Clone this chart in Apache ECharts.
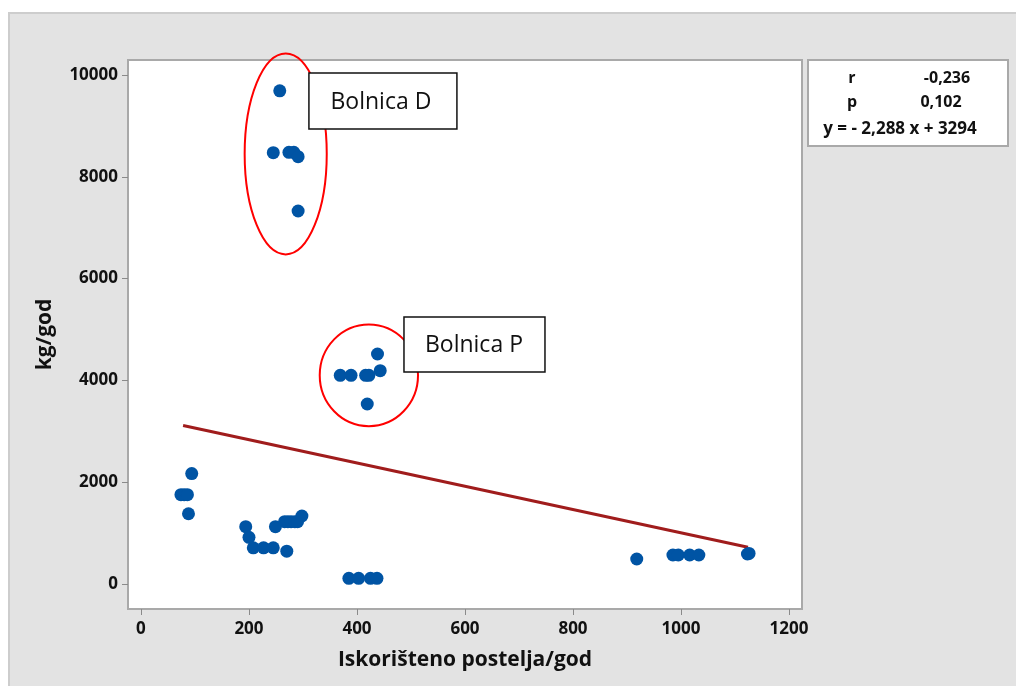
<!DOCTYPE html>
<html>
<head>
<meta charset="utf-8">
<script src="https://cdn.jsdelivr.net/npm/echarts@6/dist/echarts.min.js"></script>
<style>
html,body{margin:0;padding:0;background:#fff;}
#bg{position:absolute;left:8px;top:12px;width:1008px;height:674px;background:#e3e3e3;border-top:2px solid #cdcdcd;border-left:2px solid #cdcdcd;box-sizing:border-box;}
#chart{position:absolute;left:0;top:0;width:1016px;height:686px;}
</style>
</head>
<body>
<div id="bg"></div>
<div id="chart"></div>
<script>
// Data
const xTicks = [0, 200, 400, 600, 800, 1000, 1200];
const yTicks = [0, 2000, 4000, 6000, 8000, 10000];
const bedsX = [257, 245, 274, 283, 291, 291,
               438, 443, 369, 389, 416, 422, 419,
               94, 74, 80, 86, 88,
               194, 200, 208, 227, 245, 270, 266, 272, 278, 249, 285, 290, 298,
               385, 403, 425, 437,
               918, 985, 995, 1016, 1033, 1123, 1126];
const kgY   = [9690, 8474, 8482, 8482, 8395, 7328,
               4519, 4191, 4100, 4100, 4100, 4100, 3536,
               2170, 1755, 1755, 1755, 1380,
               1126, 918, 710, 710, 710, 645, 1225, 1225, 1225, 1126, 1225, 1225, 1336,
               112, 112, 112, 112,
               491, 570, 570, 570, 570, 590, 600];
const fitX = [78, 1124];
const fitY = [3115, 722];
const statsLabels = ['r', 'p'];
const statsValues = ['-0,236', '0,102'];
const equation = 'y = - 2,288 x + 3294';
const groupLabels = ['Bolnica D', 'Bolnica P'];

const FONT = '"Open Sans", "Noto Sans", sans-serif';
const chart = echarts.init(document.getElementById('chart'), null, {renderer: 'canvas'});

const points = bedsX.map((x, i) => [x, kgY[i]]);
const fitLine = fitX.map((x, i) => [x, fitY[i]]);

const option = {
  backgroundColor: 'transparent',
  animation: false,
  grid: {
    left: 128, top: 60, width: 674, height: 549,
    show: true, backgroundColor: '#ffffff', borderColor: '#a9a9a9', borderWidth: 2
  },
  xAxis: {
    type: 'value', min: -24, max: 1224,
    name: 'Iskorišteno postelja/god', nameLocation: 'middle', nameGap: 41,
    nameTextStyle: {fontFamily: FONT, fontSize: 21, fontWeight: 'bold', color: '#111'},
    axisLine: {show: false, onZero: false},
    splitLine: {show: false},
    axisTick: {show: true, customValues: xTicks, length: 6, lineStyle: {color: '#8a8a8a', width: 1}},
    axisLabel: {customValues: xTicks, margin: 12, fontFamily: FONT, fontSize: 17, fontWeight: 'bold', color: '#111',
                formatter: v => String(v)}
  },
  yAxis: {
    type: 'value', min: -491, max: 10295,
    name: 'kg/god', nameLocation: 'middle', nameGap: 72,
    nameTextStyle: {fontFamily: FONT, fontSize: 21, fontWeight: 'bold', color: '#111'},
    axisLine: {show: false, onZero: false},
    splitLine: {show: false},
    axisTick: {show: true, customValues: yTicks, length: 6, lineStyle: {color: '#8a8a8a', width: 1}},
    axisLabel: {customValues: yTicks, margin: 10, fontFamily: FONT, fontSize: 17, fontWeight: 'bold', color: '#111',
                formatter: v => String(v)}
  },
  series: [
    {
      type: 'line', data: fitLine, symbol: 'none', z: 3,
      lineStyle: {color: '#a01c1c', width: 3}
    },
    {
      type: 'scatter', data: points, symbolSize: 13, z: 4,
      itemStyle: {color: '#0054a4', opacity: 1}
    }
  ]
};
chart.setOption(option);

// Annotations placed from data coordinates
const c = (x, y) => chart.convertToPixel({gridIndex: 0}, [x, y]);
const eD = c(268, 8450), eDr = c(268 + 76, 8450 + 1975);
const eP = c(422, 4100), ePr = c(422 + 91, 4100 + 1000);
const bD = c(311, 10040), bP = c(487, 5245);
const txt = (x, y, t, size) => ({type: 'text', x: x, y: y, z: 12,
  style: {text: t, fontFamily: FONT, fontSize: size, fontWeight: 'bold', fill: '#111', align: 'center', verticalAlign: 'middle'}});
const graphics = [
  {type: 'ellipse', shape: {cx: eD[0], cy: eD[1], rx: eDr[0] - eD[0], ry: eD[1] - eDr[1]},
   style: {fill: 'none', stroke: '#ff0000', lineWidth: 2}, z: 10},
  {type: 'ellipse', shape: {cx: eP[0], cy: eP[1], rx: ePr[0] - eP[0], ry: eP[1] - ePr[1]},
   style: {fill: 'none', stroke: '#ff0000', lineWidth: 2}, z: 10},
  {type: 'rect', shape: {x: bD[0], y: bD[1], width: 148, height: 56},
   style: {fill: '#fff', stroke: '#111', lineWidth: 1.5}, z: 11},
  {type: 'text', x: bD[0] + 72, y: bD[1] + 29, z: 12,
   style: {text: groupLabels[0], fontFamily: FONT, fontSize: 23, fill: '#111', align: 'center', verticalAlign: 'middle'}},
  {type: 'rect', shape: {x: bP[0], y: bP[1], width: 141, height: 55},
   style: {fill: '#fff', stroke: '#111', lineWidth: 1.5}, z: 11},
  {type: 'text', x: bP[0] + 70, y: bP[1] + 28, z: 12,
   style: {text: groupLabels[1], fontFamily: FONT, fontSize: 23, fill: '#111', align: 'center', verticalAlign: 'middle'}},
  // stats box
  {type: 'rect', shape: {x: 808, y: 60, width: 200, height: 86},
   style: {fill: '#fff', stroke: '#a9a9a9', lineWidth: 2}, z: 11},
  txt(852, 78, statsLabels[0], 16),
  txt(947, 78, statsValues[0], 16),
  txt(852, 102, statsLabels[1], 16),
  txt(941, 102, statsValues[1], 16),
  txt(900, 129, equation, 17)
];
chart.setOption({graphic: {elements: graphics}});
</script>
</body>
</html>
